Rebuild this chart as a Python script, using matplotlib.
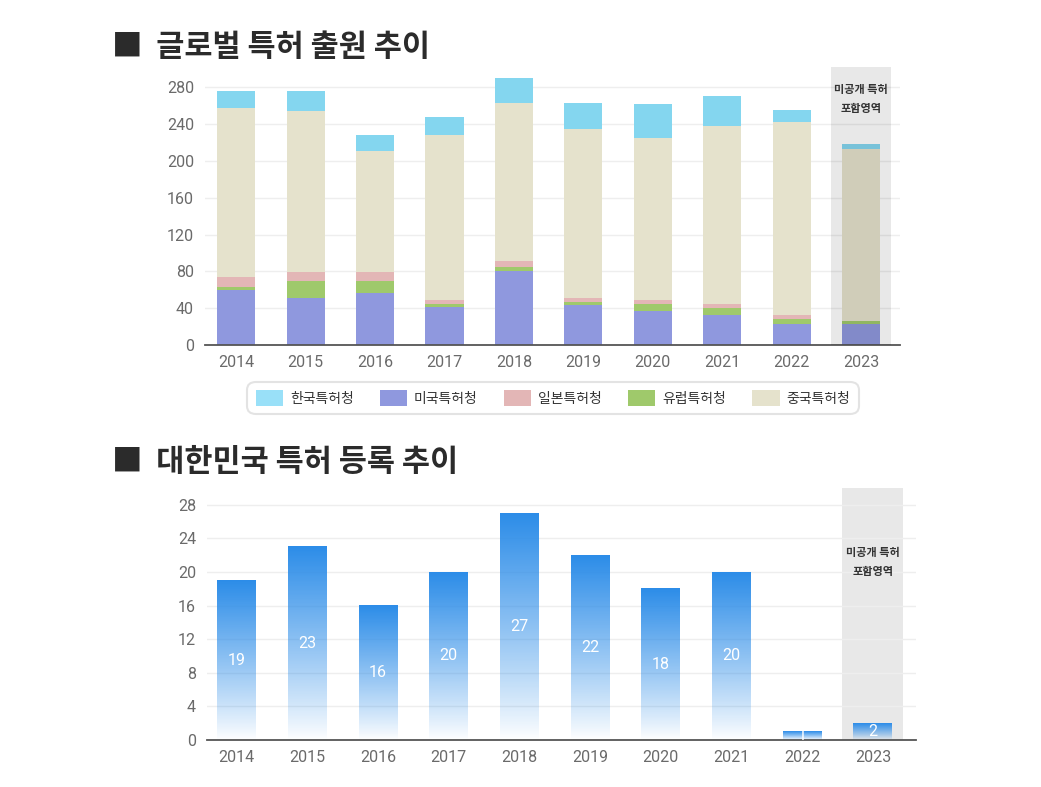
import numpy as np
import matplotlib
matplotlib.use("Agg")
import matplotlib.pyplot as plt
from matplotlib.patches import Patch

plt.rcParams["font.family"] = ["Noto Sans CJK KR", "DejaVu Sans"]

# ---- data ----
years = ["2014", "2015", "2016", "2017", "2018", "2019", "2020", "2021", "2022", "2023"]

# global filings by office (stacked bottom -> top: US, EU, JP, CN, KR)
us_filings = [60, 51, 57, 41, 80, 43, 37, 33, 23, 23]
eu_filings = [3, 18, 13, 3, 5, 4, 7, 7, 5, 3]
jp_filings = [11, 10, 9, 5, 6, 4, 5, 5, 5, 0]
cn_filings = [184, 175, 132, 179, 172, 184, 176, 193, 209, 187]
kr_filings = [18, 22, 17, 20, 27, 28, 37, 32, 13, 5]

# Korean registrations
kr_registrations = [19, 23, 16, 20, 27, 22, 18, 20, 1, 2]

office_names = ["한국특허청", "미국특허청", "일본특허청", "유럽특허청", "중국특허청"]
top_ticks = [0, 40, 80, 120, 160, 200, 240, 280]
bottom_ticks = [0, 4, 8, 12, 16, 20, 24, 28]
band_label = "미공개 특허\n포함영역"

# ---- style ----
C_KR = "#84d6ef"
C_US = "#8f98de"
C_JP = "#e3b6b6"
C_EU = "#9fc96b"
C_CN = "#e5e2cc"
BLUE = np.array([0.17, 0.55, 0.91])
TICK_C = "#6a6a6a"
TICK_FONT = ["Roboto", "DejaVu Sans"]

fig = plt.figure(figsize=(10.41, 7.87), dpi=100)
fig.patch.set_facecolor("white")

fig.text(112 / 1041, 1 - 47 / 787, "■  글로벌 특허 출원 추이", fontsize=22,
         fontweight="bold", color="#2b2b2b", va="center", ha="left")
fig.text(112 / 1041, 1 - 462 / 787, "■  대한민국 특허 등록 추이", fontsize=22,
         fontweight="bold", color="#2b2b2b", va="center", ha="left")


def style_axes(ax, ticks):
    for s in ["left", "right", "top"]:
        ax.spines[s].set_visible(False)
    ax.spines["bottom"].set_color("#555555")
    ax.spines["bottom"].set_linewidth(1.3)
    ax.set_yticks(ticks)
    ax.tick_params(axis="both", length=0, labelsize=11.5, colors=TICK_C)
    ax.tick_params(axis="y", pad=8)
    ax.tick_params(axis="x", pad=7)
    for lab in ax.get_xticklabels() + ax.get_yticklabels():
        lab.set_family(TICK_FONT)
    ax.grid(axis="y", color="#eeeeee", linewidth=1)
    ax.set_axisbelow(True)


# ---- top: stacked filings ----
ax1 = fig.add_axes([205 / 1041, 1 - 345 / 787, (900 - 205) / 1041, (345 - 67) / 787])
x = np.arange(len(years))
w = 0.55
bottom = np.zeros(len(years))
for vals, col in [(us_filings, C_US), (eu_filings, C_EU), (jp_filings, C_JP),
                  (cn_filings, C_CN), (kr_filings, C_KR)]:
    ax1.bar(x, vals, w, bottom=bottom, color=col, zorder=2)
    bottom += np.array(vals)
ax1.axvspan(x[-1] - 0.43, x[-1] + 0.43, color="black", alpha=0.09, lw=0, zorder=3)
ax1.text(x[-1], 0.885, band_label, transform=ax1.get_xaxis_transform(),
         ha="center", va="center", fontsize=8, fontweight="bold", color="#333333",
         linespacing=1.6, zorder=4)
ax1.set_xticks(x)
ax1.set_xticklabels(years)
ax1.set_xlim(-0.45, 9.56)
ax1.set_ylim(0, 302)
style_axes(ax1, top_ticks)

handles = [Patch(facecolor=c) for c in ["#99e0f8", C_US, C_JP, C_EU, C_CN]]
leg = fig.legend(handles, office_names, loc="center", ncol=5,
                 bbox_to_anchor=(553 / 1041, 1 - 398 / 787), fontsize=10,
                 frameon=True, handlelength=1.95, handleheight=1.3,
                 columnspacing=1.9, handletextpad=0.5, borderpad=0.4)
leg.get_frame().set_edgecolor("#dddddd")
leg.get_frame().set_linewidth(1.5)
leg.get_frame().set_boxstyle("round,pad=0.2,rounding_size=0.6")
for t in leg.get_texts():
    t.set_color("#333333")

# ---- bottom: registrations with gradient bars ----
ax2 = fig.add_axes([207 / 1041, 1 - 740 / 787, (916 - 207) / 1041, (740 - 488) / 787])
ax2.axvspan(x[-1] - 0.43, x[-1] + 0.43, color="#e8e8e8", lw=0, zorder=0)
ax2.text(x[-1], 0.705, band_label, transform=ax2.get_xaxis_transform(),
         ha="center", va="center", fontsize=8, fontweight="bold", color="#333333",
         linespacing=1.6, zorder=4)

t = np.linspace(0, 1, 256)[:, None]  # 0 at top, 1 at bottom
grad = np.ones((256, 1, 4))
grad[..., :3] = BLUE
grad[..., 3] = (1 - t) ** 0.9
for xi, v in zip(x, kr_registrations):
    ax2.imshow(grad, extent=[xi - w / 2, xi + w / 2, 0, v], aspect="auto",
               interpolation="bilinear", zorder=2)
    ax2.text(xi, v / 2, str(v), ha="center", va="center", color="white",
             fontsize=11.5, family=TICK_FONT, zorder=3)
ax2.set_xticks(x)
ax2.set_xticklabels(years)
ax2.set_xlim(-0.42, 9.61)
ax2.set_ylim(0, 30)
style_axes(ax2, bottom_ticks)

fig.savefig("out.png", dpi=100, facecolor="white")
